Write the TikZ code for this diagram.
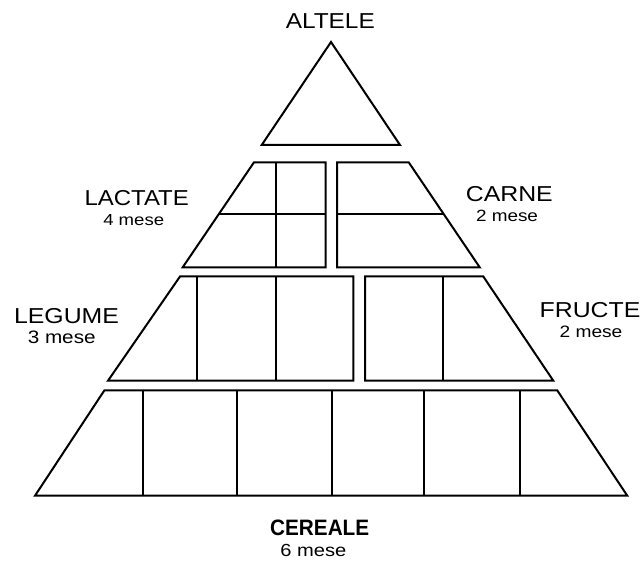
\documentclass[tikz,border=0pt]{standalone}
\usepackage{fontspec}
\setmainfont{Liberation Sans}
\usepackage{graphicx}
\newcommand{\xst}[2]{\scalebox{#1}[1]{#2}}
\begin{document}
\begin{tikzpicture}[x=1pt,y=-1pt,
  edge/.style={line width=2pt, line join=miter},
  big/.style={anchor=base, inner sep=0pt, font=\fontsize{21.6}{24}\selectfont},
  small/.style={anchor=base, inner sep=0pt}]
\useasboundingbox (0,0) rectangle (643,561);
% top triangle
\draw[edge] (331,42) -- (400,145) -- (261.7,145) -- cycle;
% tier 2 left (lactate)
\draw[edge] (254,162.3) -- (325.7,162.3) -- (325.7,267.3) -- (182.7,267.3) -- cycle;
\draw[edge] (276.3,162.3) -- (276.3,267.3);
\draw[edge] (218.9,214) -- (325.7,214);
% tier 2 right (carne)
\draw[edge] (337,162.3) -- (408.7,162.3) -- (479.7,267.3) -- (337,267.3) -- cycle;
\draw[edge] (337,214) -- (443.7,214);
% tier 3 left (legume)
\draw[edge] (180,276.5) -- (353.3,276.5) -- (353.3,380.7) -- (108,380.7) -- cycle;
\draw[edge] (196.7,276.5) -- (196.7,380.7);
\draw[edge] (276,276.5) -- (276,380.7);
% tier 3 right (fructe)
\draw[edge] (365,276.5) -- (483.3,276.5) -- (553.3,380.7) -- (365,380.7) -- cycle;
\draw[edge] (443.3,276.5) -- (443.3,380.7);
% tier 4 (cereale)
\draw[edge] (104.3,390.5) -- (557.3,390.5) -- (627.3,495.7) -- (35,495.7) -- cycle;
\foreach \xx in {143.3,237.3,331.7,424,519.7}
  \draw[edge] (\xx,390.5) -- (\xx,495.7);
% labels
\node[big] (altele) at (330.3,29) {\xst{1.13}{ALTELE}};
\node[big] (lactate) at (136.7,206) {\xst{1.11}{LACTATE}};
\node[small, font=\fontsize{16}{18}\selectfont] (lactm) at (133.7,225.7) {\xst{1.16}{4 mese}};
\node[big] (carne) at (509.3,202) {\xst{1.15}{CARNE}};
\node[small, font=\fontsize{16.3}{18}\selectfont] (carnem) at (507,221.7) {\xst{1.16}{2 mese}};
\node[big] (legume) at (66.5,324) {\xst{1.15}{LEGUME}};
\node[small, font=\fontsize{18}{20}\selectfont] (legumem) at (61.7,344) {\xst{1.15}{3 mese}};
\node[big] (fructe) at (590,317.3) {\xst{1.15}{FRUCTE}};
\node[small, font=\fontsize{16.5}{18}\selectfont] (fructem) at (591,337.3) {\xst{1.16}{2 mese}};
\node[big, font=\fontsize{22.3}{24}\selectfont\bfseries] (cereale) at (319.7,535) {\xst{0.93}{CEREALE}};
\node[small, font=\fontsize{17.5}{20}\selectfont] (cerealem) at (313.3,556.5) {\xst{1.15}{6 mese}};
\end{tikzpicture}
\end{document}
